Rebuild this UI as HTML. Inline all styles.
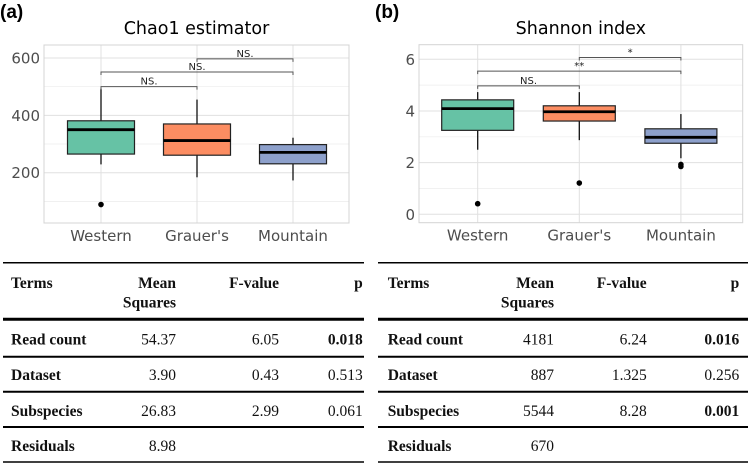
<!DOCTYPE html>
<html><head><meta charset="utf-8"><style>
html,body{margin:0;padding:0;background:#fff;}
svg{display:block;}
.tick{font-family:"DejaVu Sans","Liberation Sans",sans-serif;font-size:15px;fill:#4d4d4d;}
.ttl{font-family:"DejaVu Sans","Liberation Sans",sans-serif;font-size:17.5px;fill:#000;}
.lab{font-family:"Liberation Sans",sans-serif;font-size:19px;font-weight:bold;fill:#000;}
.sig{font-family:"DejaVu Sans","Liberation Sans",sans-serif;font-size:10px;fill:#222;}
.tb{font-family:"Liberation Serif",serif;font-size:15.5px;fill:#111;}
.b{font-weight:bold;}
</style></head><body>
<svg id="fig" width="749" height="464" viewBox="0 0 749 464"></svg>
<script>
const categories=["Western","Grauer's","Mountain"];
const colors=["#66c2a5","#fc8d62","#8da0cb"];
// Chao1 [min, q1, median, q3, max]
const chaoStats=[[229,265,350,381,493],[184,261,312,370,455],[173,231,271,298,322]];
const chaoOutliers=[[89],[],[]];
const chaoTicks=[200,400,600];
const chaoBrackets=[[0,1,500,"NS."],[0,2,551,"NS."],[1,2,597,"NS."]];
// Shannon
const shanStats=[[2.5,3.25,4.09,4.43,4.73],[2.87,3.61,3.97,4.2,4.73],[2.17,2.75,2.98,3.31,3.88]];
const shanOutliers=[[0.41],[1.21],[1.85,1.93]];
const shanTicks=[0,2,4,6];
const shanBrackets=[[0,1,4.97,"NS."],[0,2,5.54,"**"],[1,2,6.07,"*"]];
// tables
const tableHeaders=["Terms","Mean","F-value","p"];
const tableA=[["Read count","54.37","6.05","0.018",true],["Dataset","3.90","0.43","0.513",false],["Subspecies","26.83","2.99","0.061",false],["Residuals","8.98","","",false]];
const tableB=[["Read count","4181","6.24","0.016",true],["Dataset","887","1.325","0.256",false],["Subspecies","5544","8.28","0.001",true],["Residuals","670","","",false]];

const svg=document.getElementById('fig');
const NS="http://www.w3.org/2000/svg";
function mk(tag,at,parent,txt){const e=document.createElementNS(NS,tag);for(const k in at)e.setAttribute(k,at[k]);if(txt!==undefined)e.textContent=txt;(parent||svg).appendChild(e);return e;}

function panel(o){
  const g=mk('g',{});
  
  
  const y=v=>o.y0+(v-o.v0)*(o.y1-o.y0)/(o.v1-o.v0);
  const xs=i=>o.xc[0]+i*(o.xc[1]-o.xc[0]);
  for(let k=0;k<o.minor.length;k++){mk('line',{x1:o.L,x2:o.R,y1:y(o.minor[k]),y2:y(o.minor[k]),stroke:'#ececec','stroke-width':0.7},g);}
  o.ticks.forEach(t=>{const l=mk('line',{x1:o.L,x2:o.R,y1:y(t),y2:y(t),stroke:'#e0e0e0','stroke-width':1},g);
    const tx=mk('text',{x:o.L-4,y:y(t)+5.5,'text-anchor':'end',class:'tick'},g,String(t));});
  categories.forEach((c,i)=>{mk('line',{x1:xs(i),x2:xs(i),y1:o.T,y2:o.B,stroke:'#e0e0e0','stroke-width':1},g);
    const tx=mk('text',{x:xs(i),y:o.B+18,'text-anchor':'middle',class:'tick'},g,c);});
  mk('rect',{x:o.L,y:o.T,width:o.R-o.L,height:o.B-o.T,fill:'none',stroke:'#d4d4d4','stroke-width':1},g);
  o.stats.forEach((s,i)=>{const cx=xs(i),hw=o.bw/2;
    const bg=mk('g',{},g);
    mk('line',{x1:cx,x2:cx,y1:y(s[0]),y2:y(s[1]),stroke:'#111','stroke-width':1.3},bg);
    mk('line',{x1:cx,x2:cx,y1:y(s[3]),y2:y(s[4]),stroke:'#111','stroke-width':1.3},bg);
    mk('rect',{x:cx-hw,y:y(s[3]),width:o.bw,height:y(s[1])-y(s[3]),fill:colors[i],stroke:'#222','stroke-width':1.2},bg);
    mk('line',{x1:cx-hw,x2:cx+hw,y1:y(s[2]),y2:y(s[2]),stroke:'#000','stroke-width':2.8},bg);
    o.out[i].forEach(v=>{const c=mk('circle',{cx:cx,cy:y(v),r:2.8,fill:'#000'},bg);});
  });
  o.br.forEach(b=>{const x1=xs(b[0]),x2=xs(b[1]),yy=y(b[2]);
    const p=mk('path',{d:`M${x1},${yy+3}V${yy}H${x2}V${yy+3}`,fill:'none',stroke:'#555','stroke-width':1},g);
    const t=mk('text',{x:(x1+x2)/2,y:yy-2,'text-anchor':'middle',class:'sig'},g,b[3]);});
  const tt=mk('text',{x:(o.L+o.R)/2,y:34,'text-anchor':'middle',class:'ttl'},g,o.title);
  const pl=mk('text',{x:o.lx,y:18,class:'lab'},g,o.label);
}
panel({name:'chao1-boxplot',L:44,R:349,T:45,B:223,y0:172.7,y1:58,v0:200,v1:600,xc:[101,197],bw:67,stats:chaoStats,out:chaoOutliers,ticks:chaoTicks,minor:[100,300,500],br:chaoBrackets,title:'Chao1 estimator',label:'(a)',lx:0});
panel({name:'shannon-boxplot',L:419,R:742.7,T:44.7,B:222.7,y0:214.3,y1:59.3,v0:0,v1:6,xc:[477.7,579.3],bw:72,stats:shanStats,out:shanOutliers,ticks:shanTicks,minor:[1,3,5],br:shanBrackets,title:'Shannon index',label:'(b)',lx:375});

function table(o,rows){
  const g=mk('g',{});
  const line=(yy,w)=>mk('line',{x1:o.L,x2:o.R,y1:yy,y2:yy,stroke:'#000','stroke-width':w},g);
  line(262.7,1.5);line(319.3,3);line(356.7,2);line(391.7,2);line(427,2);line(462,1.5);
  const anchors=['start','end','end','end'];
  tableHeaders.forEach((h,j)=>{const t=mk('text',{x:o.cx[j],y:288,'text-anchor':anchors[j],class:'tb b'},g,h);});
  mk('text',{x:o.cx[1],y:307.5,'text-anchor':'end',class:'tb b'},g,'Squares');
  const ys=[344.5,380,416,451];
  rows.forEach((r,i)=>{for(let j=0;j<4;j++){const t=mk('text',{x:o.cx[j],y:ys[i],'text-anchor':anchors[j],class:'tb'+((j==0||(j==3&&r[4]))?' b':'')},g,r[j]);}});
}
table({name:'anova-table-a',L:3,R:364,cx:[11,176,279,362.7]},tableA);
table({name:'anova-table-b',L:378,R:748,cx:[387.7,554,646.7,739.3]},tableB);
</script>
</body></html>
